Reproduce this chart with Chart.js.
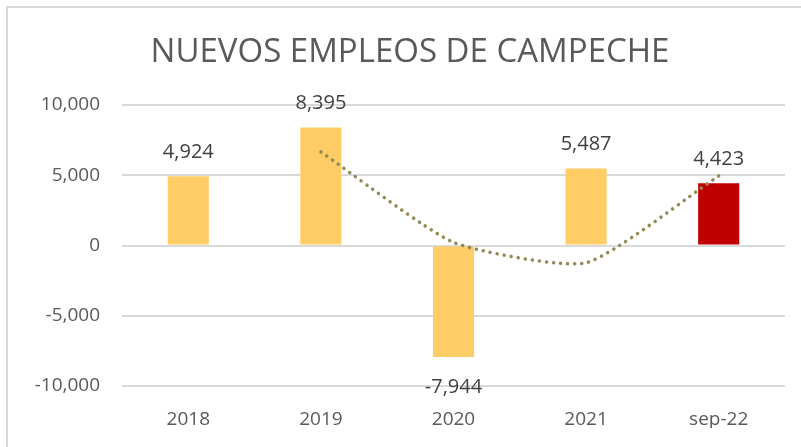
<!DOCTYPE html>
<html>
<head>
<meta charset="utf-8">
<script src="https://cdn.jsdelivr.net/npm/chart.js@4"></script>
<style>
  html, body { margin: 0; padding: 0; background: #fff; }
  #wrap { position: relative; width: 801px; height: 447px; }
  #frame { position: absolute; left: 6px; top: 6px; right: 0; bottom: 0;
           border-left: 2px solid #d9d9d9; border-top: 2px solid #d9d9d9; }
  canvas { position: absolute; left: 0; top: 0; }
</style>
</head>
<body>
<div id="wrap">
  <div id="frame"></div>
  <canvas id="chart" width="801" height="447"></canvas>
</div>
<script>
const titulo = "NUEVOS EMPLEOS DE CAMPECHE";
const categorias = ["2018", "2019", "2020", "2021", "sep-22"];
const empleos = [4924, 8395, -7944, 5487, 4423];
const colores = ["#FFCC66", "#FFCC66", "#FFCC66", "#FFCC66", "#C00000"];
// línea de tendencia (media móvil de 2 periodos)
const tendencia = [null, 6660, 225, -1230, 4955];
const ticksY = [-10000, -5000, 0, 5000, 10000];

const fmt = v => v.toLocaleString("en-US");

// etiquetas de datos y título
const etiquetas = {
  id: "etiquetas",
  afterDatasetsDraw(chart) {
    const ctx = chart.ctx;
    ctx.save();
    ctx.fillStyle = "#404040";
    ctx.font = "20px 'Open Sans'";
    ctx.textAlign = "center";
    ctx.textBaseline = "middle";
    chart.getDatasetMeta(0).data.forEach((bar, i) => {
      const v = empleos[i];
      const y = v >= 0 ? bar.y - 24 : bar.y + 30;
      ctx.fillText(fmt(v), bar.x, y);
    });
    ctx.fillStyle = "#595959";
    ctx.font = "33px 'Open Sans'";
    ctx.textBaseline = "alphabetic";
    ctx.fillText(titulo, 410, 62);
    ctx.restore();
  }
};

new Chart(document.getElementById("chart"), {
  data: {
    labels: categorias,
    datasets: [
      {
        type: "bar",
        data: empleos,
        backgroundColor: colores,
        barPercentage: 0.62,
        categoryPercentage: 0.5,
        order: 2
      },
      {
        type: "line",
        data: tendencia,
        borderColor: "#948A54",
        borderWidth: 3.5,
        borderDash: [0.1, 7],
        borderCapStyle: "round",
        pointRadius: 0,
        tension: 0.18,
        fill: false,
        order: 1
      }
    ]
  },
  options: {
    responsive: false,
    animation: false,
    layout: { padding: { left: 5, right: 16, top: 105, bottom: 19 } },
    plugins: {
      legend: { display: false },
      tooltip: { enabled: false }
    },
    scales: {
      x: {
        afterFit: s => { s.height = 42; },
        grid: { display: false, drawTicks: false },
        border: { display: false },
        ticks: { color: "#595959", font: { family: "Open Sans", size: 19 }, padding: 22 }
      },
      y: {
        min: -10000,
        max: 10000,
        afterBuildTicks: s => { s.ticks = ticksY.map(v => ({ value: v })); },
        afterFit: s => { s.width = 117; },
        grid: { color: "#d9d9d9", lineWidth: 2, drawTicks: false },
        border: { display: false },
        ticks: {
          color: "#595959",
          font: { family: "Open Sans", size: 19 },
          padding: 22,
          callback: v => fmt(v)
        }
      }
    }
  },
  plugins: [etiquetas]
});
</script>
</body>
</html>
